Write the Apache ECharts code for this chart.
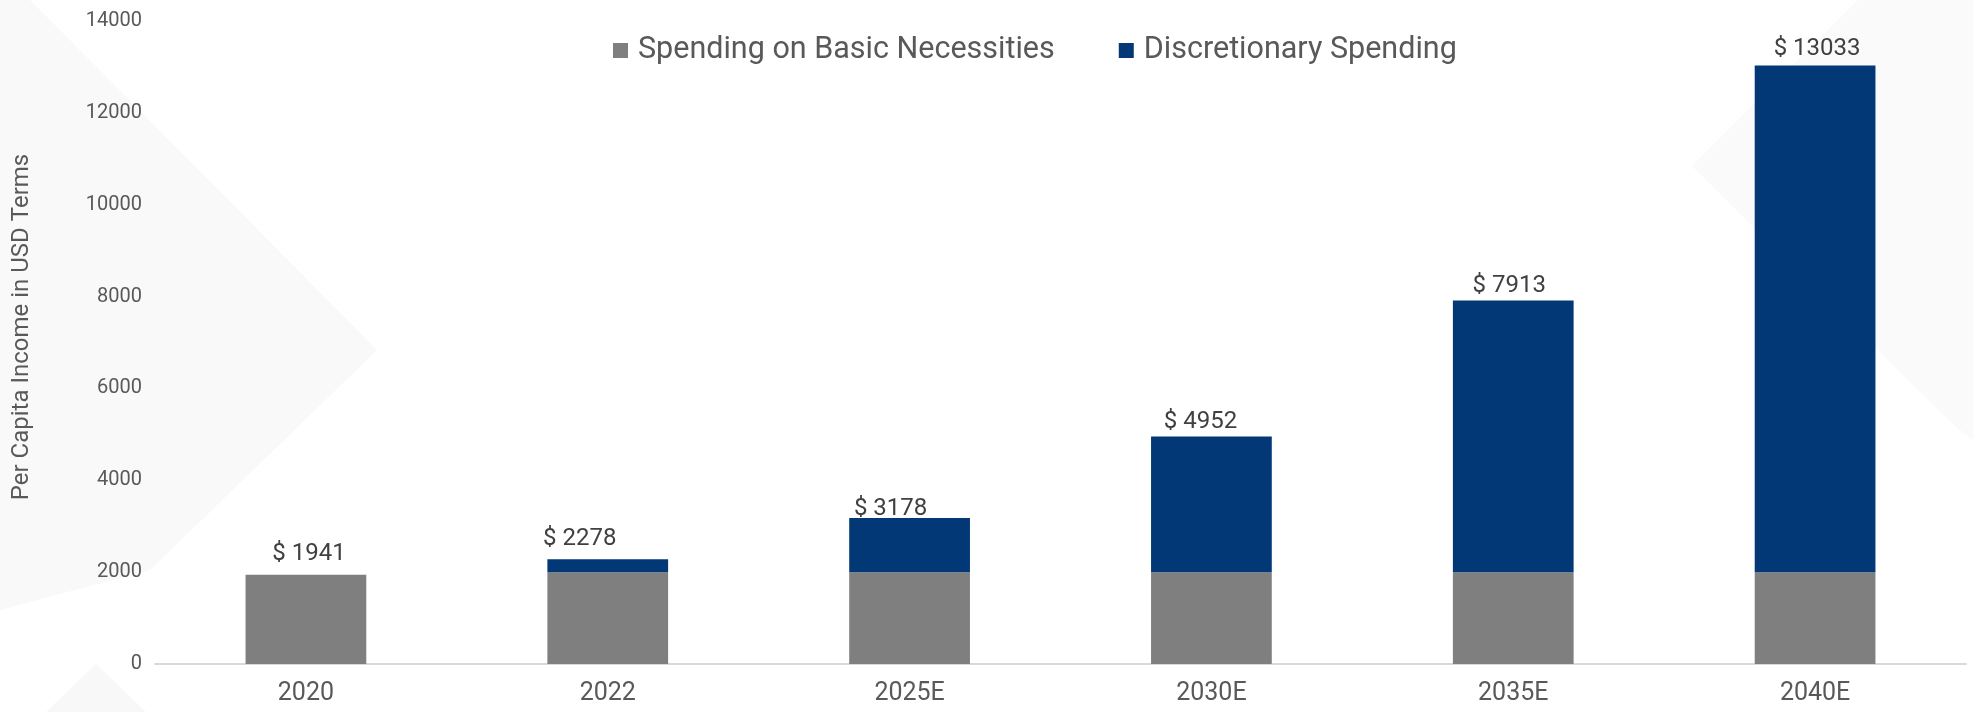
<!DOCTYPE html>
<html>
<head>
<meta charset="utf-8">
<title>Per Capita Income and Spending</title>
<script src="https://cdn.jsdelivr.net/npm/echarts@6/dist/echarts.min.js"></script>
<style>
  html, body { margin: 0; padding: 0; background: #ffffff; }
  #chart { width: 1973px; height: 712px; }
</style>
</head>
<body>
<div id="chart"></div>
<script>
// Years on the category axis
const years = ['2020', '2022', '2025E', '2030E', '2035E', '2040E'];

// Per capita income (USD) – total shown above each column
const totalIncome = [1941, 2278, 3178, 4952, 7913, 13033];

// Portion spent on basic necessities (USD)
const basicSpending = [1941, 2000, 2000, 2000, 2000, 2000];

// Discretionary part = total income minus basic necessities
const discretionarySpending = totalIncome.map((t, i) => t - basicSpending[i]);

// Value axis ticks
const yTicks = [0, 2000, 4000, 6000, 8000, 10000, 12000, 14000];

// Small nudges for the total labels so they sit like the original layout
const labelNudges = [[3, -7], [-28, -6], [-19, 5], [-11, -1], [-4, -1], [2, -2]];

const chart = echarts.init(document.getElementById('chart'), null, { renderer: 'canvas' });

const FONT = 'Roboto, "Noto Sans", sans-serif';
const textGrey = '#595959';

const option = {
  backgroundColor: '#ffffff',
  animation: false,
  graphic: [
    // faint decorative diamonds in the background
    {
      type: 'polygon', z: -10, silent: true,
      shape: { points: [[0, 0], [30, 0], [377, 350], [150, 570], [0, 610]] },
      style: { fill: '#f9f9f9' }
    },
    {
      type: 'polygon', z: -10, silent: true,
      shape: { points: [[96, 664], [146, 712], [46, 712]] },
      style: { fill: '#f8f8f8' }
    },
    {
      type: 'polygon', z: -10, silent: true,
      shape: { points: [[1692, 166], [1858, 0], [1973, 0], [1973, 440], [1956, 427]] },
      style: { fill: '#fafafa' }
    },
    {
      type: 'text',
      x: 22, y: 327,
      rotation: Math.PI / 2,
      style: {
        text: 'Per Capita Income in USD Terms',
        fill: textGrey,
        font: '24px ' + FONT,
        textAlign: 'center',
        textVerticalAlign: 'middle'
      }
    }
  ],
  legend: {
    left: 613,
    top: 35,
    padding: 0,
    itemWidth: 15,
    itemHeight: 15,
    itemGap: 64,
    icon: 'rect',
    textStyle: { color: textGrey, fontSize: 30.5, fontFamily: FONT, lineHeight: 30, padding: [0, 0, 0, 5] },
    data: ['Spending on Basic Necessities', 'Discretionary Spending']
  },
  grid: { left: 155, right: 7, top: 21, bottom: 48, containLabel: false },
  xAxis: {
    type: 'category',
    data: years,
    axisTick: { show: false },
    axisLine: { lineStyle: { color: '#d9d9d9', width: 2 } },
    axisLabel: { color: textGrey, fontSize: 25, fontFamily: FONT, margin: 17 }
  },
  yAxis: {
    type: 'value',
    min: yTicks[0],
    max: yTicks[yTicks.length - 1],
    interval: yTicks[1] - yTicks[0],
    splitLine: { show: false },
    axisLine: { show: false },
    axisTick: { show: false },
    axisLabel: {
      color: textGrey, fontSize: 20, fontFamily: FONT, margin: 13,
      formatter: (v) => String(v)
    }
  },
  series: [
    {
      name: 'Spending on Basic Necessities',
      type: 'bar',
      stack: 'income',
      barWidth: '40%',
      itemStyle: { color: '#7f7f7f' },
      data: basicSpending
    },
    {
      name: 'Discretionary Spending',
      type: 'bar',
      stack: 'income',
      barWidth: '40%',
      itemStyle: { color: '#023876' },
      data: discretionarySpending.map((v, i) => ({
        value: v,
        label: {
          show: true,
          position: 'top',
          distance: 2,
          offset: labelNudges[i],
          formatter: '$ ' + totalIncome[i],
          color: '#404040',
          fontSize: 24,
          lineHeight: 24,
          fontFamily: FONT
        }
      }))
    }
  ]
};

chart.setOption(option);
</script>
</body>
</html>
